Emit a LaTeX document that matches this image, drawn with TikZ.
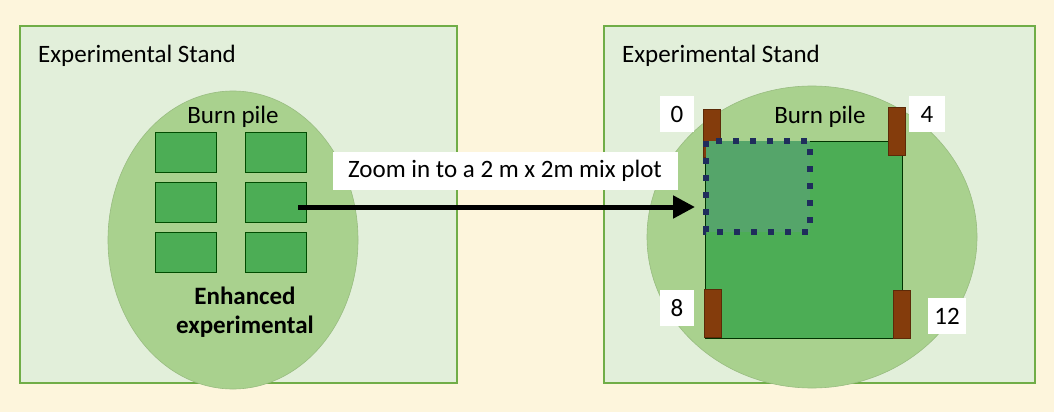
\documentclass[tikz,border=0pt]{standalone}
\usepackage{fontspec}
\setmainfont{Carlito}
\usetikzlibrary{arrows.meta}
\begin{document}
\begin{tikzpicture}[x=1pt,y=-1pt,
  stand/.style={fill=lgreen, line width=1.5pt},
  pile/.style={fill=mgreen, draw=mgreen!90!black, line width=0.6pt},
  cell/.style={fill=dgreen, draw=black!70!green, line width=0.6pt},
  post/.style={fill=brown1, draw=brown1!70!black, line width=0.6pt},
  lab/.style={fill=white, inner sep=0pt, minimum height=36pt, font=\fontsize{25}{30}\selectfont},
  txt/.style={font=\fontsize{25}{30}\selectfont, inner sep=0pt}]
\definecolor{bg}{HTML}{FDF5DC}
\definecolor{lgreen}{HTML}{E2EFDA}
\definecolor{mgreen}{HTML}{A9D18E}
\definecolor{dgreen}{HTML}{4CAD55}
\definecolor{brown1}{HTML}{843C0C}
\definecolor{navy}{HTML}{1F2D5C}
\definecolor{zgreen}{HTML}{55A56A}
\definecolor{frame}{HTML}{70AD47}
\fill[bg] (0,0) rectangle (1054,412);
\useasboundingbox (0,0) rectangle (1054,412);
\draw[stand, draw=frame] (20,26) rectangle (457,383);
\draw[stand, draw=frame] (604,26) rectangle (1035,383);
\node[txt, anchor=west] (t1) at (38,56) {Experimental Stand};
\node[txt, anchor=west] (t2) at (622,56) {Experimental Stand};
% left
\path[pile] (233,240) ellipse [x radius=125, y radius=149];
\foreach \c/\x in {a/155,b/245}{
  \foreach \r/\y in {1/132,2/182,3/232}{
    \draw[cell] (\x,\y) rectangle ++(61,40);
  }}
\node[txt] (bp1) at (233,117) {Burn pile};
\node[txt, font=\fontsize{25}{29}\selectfont\bfseries, align=center] (enh) at (245,312) {Enhanced\\experimental};
% right
\path[pile] (812,237) ellipse [x radius=165, y radius=151];
\draw[cell, draw=black!80!green] (705,141) rectangle (902,338);
\draw[post] (703,109) rectangle (720,157);
\draw[post] (888,107) rectangle (905,155);
\draw[post] (704,289) rectangle (721,337);
\draw[post] (893,290) rectangle (910,338);
\fill[zgreen] (706,141) rectangle (810,232);
\draw[navy, line width=6pt, dash pattern=on 6pt off 11pt] (706,141) rectangle (810,232);
\node[txt] (bp2) at (820,117) {Burn pile};
\node[lab, minimum width=34pt] (l0) at (677,114) {0};
\node[lab, minimum width=36pt] (l4) at (927,114) {4};
\node[lab, minimum width=34pt] (l8) at (677,308) {8};
\node[lab, minimum width=38pt] (l12) at (947,316) {12};
% arrow
\coordinate (start) at (298,207);
\coordinate (tip) at (695,207);
\draw[line width=5pt, -{Triangle[length=22pt,width=22pt]}] (start) -- (tip);
\node[lab, minimum width=345pt, minimum height=38pt] (zl) at (505,171) {Zoom in to a 2 m x 2m mix plot};
\end{tikzpicture}
\end{document}
